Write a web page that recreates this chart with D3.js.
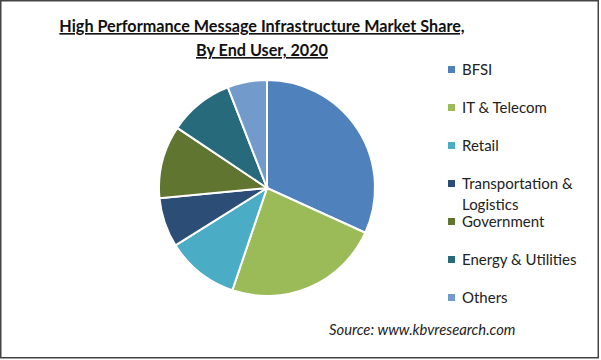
<!DOCTYPE html>
<html>
<head>
    <meta charset="utf-8">
    <title>High Performance Message Infrastructure Market Share</title>
    <script src="https://d3js.org/d3.v7.min.js"></script>
    <style>
        body { margin: 0; background: #fff; }
        svg { display: block; font-family: Lato, "Open Sans", sans-serif; }
    </style>
</head>
<body>
    <svg id="chart"></svg>
    <script>
        // data
        const categories = ["BFSI", "IT & Telecom", "Retail", "Transportation & Logistics", "Government", "Energy & Utilities", "Others"];
        const shares = [31.8, 23.4, 10.9, 7.4, 10.9, 9.7, 5.9];
        const colors = ["#4f81bd", "#9bbb59", "#4bacc6", "#2c4d75", "#5f7530", "#276a7c", "#729aca"];
        const legendLines = [["BFSI"], ["IT & Telecom"], ["Retail"], ["Transportation &", "Logistics"], ["Government"], ["Energy & Utilities"], ["Others"]];

        const width = 601;
        const height = 360;

        const svg = d3.select("#chart")
            .attr("width", width)
            .attr("height", height);

        // frame
        svg.append("rect")
            .attr("x", 0.75).attr("y", 0.75)
            .attr("width", 597.5).attr("height", 357)
            .attr("fill", "none")
            .attr("stroke", "#444")
            .attr("stroke-width", 1.5);

        // title
        const title = svg.append("text")
            .attr("text-anchor", "middle")
            .attr("font-weight", "bold")
            .attr("font-size", 16.2)
            .attr("text-decoration", "underline")
            .attr("fill", "#111");
        title.append("tspan").attr("x", 262).attr("y", 32).text("High Performance Message Infrastructure Market Share,");
        title.append("tspan").attr("x", 262).attr("y", 56).text("By End User, 2020");

        // pie
        const color = d3.scaleOrdinal().domain(categories).range(colors);
        const pie = d3.pie().sort(null).value(d => d.value);
        const arc = d3.arc().innerRadius(0).outerRadius(108);
        const data = categories.map((c, i) => ({ name: c, value: shares[i] }));

        svg.append("g")
            .attr("transform", "translate(267,188)")
            .selectAll("path")
            .data(pie(data))
            .enter()
            .append("path")
            .attr("d", arc)
            .attr("fill", d => color(d.data.name))
            .attr("stroke", "#fff")
            .attr("stroke-width", 2);

        // legend
        const legendY = d3.scalePoint().domain(categories).range([70, 298]);
        const legend = svg.append("g").selectAll("g")
            .data(categories)
            .enter()
            .append("g")
            .attr("transform", d => `translate(448, ${legendY(d)})`);

        legend.append("rect")
            .attr("x", 0).attr("y", -4)
            .attr("width", 7).attr("height", 7)
            .attr("fill", d => color(d));

        legend.append("text")
            .attr("x", 14)
            .attr("y", 5)
            .attr("font-size", 15)
            .attr("fill", "#222")
            .each(function(d, i) {
                const t = d3.select(this);
                legendLines[i].forEach((line, j) => {
                    t.append("tspan").attr("x", 14).attr("dy", j === 0 ? 0 : 21).text(line);
                });
            });

        // source
        svg.append("text")
            .attr("x", 329)
            .attr("y", 335)
            .attr("font-size", 14.8)
            .attr("font-style", "italic")
            .attr("fill", "#222")
            .text("Source: www.kbvresearch.com");
    </script>
</body>
</html>
